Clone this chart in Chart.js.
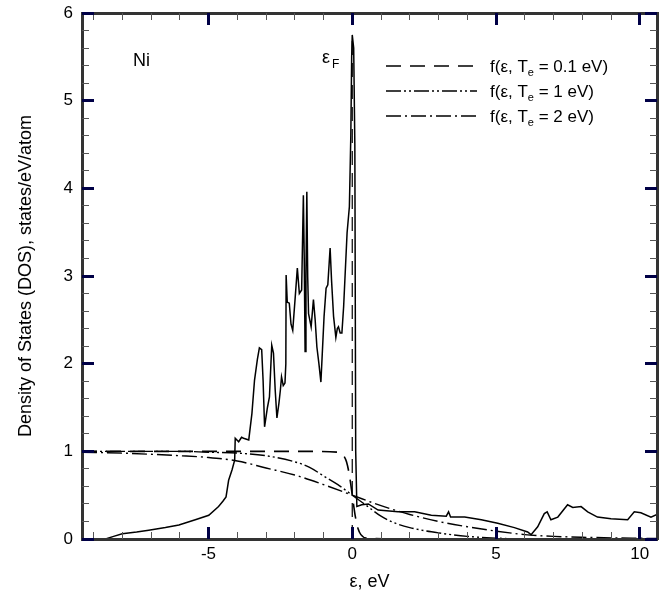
<!DOCTYPE html>
<html>
<head>
<meta charset="utf-8">
<script src="https://cdn.jsdelivr.net/npm/chart.js@4.4.1/dist/chart.umd.min.js"></script>
<style>
  html, body { margin: 0; padding: 0; background: #fff; }
  #wrap { width: 665px; height: 593px; }
</style>
</head>
<body>
<div id="wrap"><canvas id="dosChart"></canvas></div>
<script>
// Ni density of states, eV vs states/eV/atom
const dosEnergy = [
  -8.58, -8.3, -8.0, -7.5, -7.08, -6.5, -6.03, -5.46, -4.99, -4.65, -4.5, -4.39, -4.3, -4.18, -4.09, -4.07,
  -3.95, -3.85, -3.78, -3.6, -3.49, -3.4, -3.3, -3.23, -3.15, -3.1, -3.05, -2.95, -2.88, -2.8, -2.74, -2.68,
  -2.62, -2.55, -2.5, -2.46, -2.4, -2.34, -2.31, -2.3, -2.26, -2.19, -2.13, -2.07, -1.99, -1.91, -1.84, -1.76,
  -1.7, -1.67, -1.64, -1.61, -1.58, -1.55, -1.52, -1.43, -1.35, -1.29, -1.23, -1.16, -1.09, -1.03, -0.98, -0.91,
  -0.85, -0.77, -0.72, -0.65, -0.57, -0.52, -0.48, -0.42, -0.36, -0.3, -0.18, -0.1, -0.05, -0.02, 0.0, 0.05,
  0.09, 0.12, 0.16, 0.33, 0.56, 0.9, 1.59, 2.17, 2.75, 3.27, 3.35, 3.42, 3.91, 4.49, 5.06, 5.64,
  6.1, 6.22, 6.45, 6.68, 6.78, 6.91, 7.15, 7.49, 7.67, 7.96, 8.19, 8.53, 9.0, 9.58, 9.81, 10.04,
  10.39, 10.6
];
const dosValue = [
  0, 0.03, 0.06, 0.08, 0.10, 0.13, 0.16, 0.22, 0.27, 0.37, 0.43, 0.48, 0.67, 0.79, 0.90, 1.15,
  1.11, 1.16, 1.15, 1.13, 1.43, 1.81, 2.05, 2.18, 2.16, 1.80, 1.28, 1.50, 1.62, 2.21, 2.12, 1.70,
  1.38, 1.55, 1.70, 1.85, 1.75, 1.78, 2.00, 3.01, 2.70, 2.69, 2.45, 2.38, 2.73, 3.09, 2.80, 2.84,
  3.92, 3.20, 2.14, 3.00, 3.96, 3.00, 2.57, 2.42, 2.73, 2.50, 2.19, 2.00, 1.79, 2.20, 2.54, 2.86,
  2.90, 3.32, 2.95, 2.54, 2.30, 2.40, 2.42, 2.35, 2.35, 2.65, 3.49, 3.79, 4.60, 5.50, 5.75, 5.60,
  4.50, 1.00, 0.37, 0.39, 0.40, 0.33, 0.31, 0.31, 0.27, 0.26, 0.31, 0.25, 0.25, 0.22, 0.18, 0.13,
  0.08, 0.05, 0.14, 0.29, 0.31, 0.22, 0.25, 0.39, 0.36, 0.37, 0.31, 0.25, 0.23, 0.22, 0.31, 0.30,
  0.25, 0.28
];

// Fermi-Dirac occupations as drawn
const fermiEnergy01 = [-9.4, -2, -0.5, -0.3, -0.2, -0.1, 0.0, 0.05, 0.1, 0.2, 0.3, 0.5, 2, 10.6];
const fermiValue01  = [1.0, 1.0, 0.99, 0.95, 0.88, 0.73, 0.5, 0.38, 0.27, 0.12, 0.05, 0.01, 0, 0];

const fermiEnergy1 = [-9.4, -6, -5, -4, -3, -2, -1.5, -1, -0.5, 0, 0.5, 1, 1.5, 2, 3, 4, 5, 6, 10.6];
const fermiValue1  = [1.0, 1.0, 0.99, 0.98, 0.95, 0.88, 0.82, 0.72, 0.62, 0.5, 0.38, 0.26, 0.18, 0.13, 0.07, 0.03, 0.01, 0.0, 0.0];

const fermiEnergy2 = [-9.4, -8, -6, -5, -4, -3, -2, -1, 0, 1, 2, 3, 4, 5, 6, 7, 8, 10.6];
const fermiValue2  = [0.99, 0.98, 0.95, 0.93, 0.89, 0.81, 0.73, 0.62, 0.5, 0.38, 0.28, 0.2, 0.14, 0.09, 0.05, 0.03, 0.02, 0.005];

const fermiLevelEnergy = [0, 0];
const fermiLevelValue  = [0, 5.75];

const legendLabels = ["0.1 eV", "1 eV", "2 eV"];
const xTickValues = [-5, 0, 5, 10];
const yTickValues = [0, 1, 2, 3, 4, 5, 6];

const FONT = "'Liberation Sans', Arial, sans-serif";

function toPoints(xs, ys) {
  return xs.map((x, i) => ({ x: x, y: ys[i] }));
}

const dashT01 = [15, 9];
const dashT1  = [15, 3, 2, 3, 2, 3];
const dashT2  = [15, 4, 2, 4];

// frame + inward ticks
const framePlugin = {
  id: 'frame',
  afterDraw(chart) {
    const c = chart.ctx;
    const a = chart.chartArea;
    const xs = chart.scales.x, ys = chart.scales.y;
    c.save();
    c.fillStyle = '#333333';
    c.fillRect(a.left - 1, a.top - 1, a.right - a.left + 2, 3);
    c.fillRect(a.left - 1, a.bottom - 1, a.right - a.left + 2, 3);
    c.fillRect(a.left - 1, a.top - 1, 3, a.bottom - a.top + 2);
    c.fillRect(a.right - 1, a.top - 1, 3, a.bottom - a.top + 2);
    for (let v = -9; v <= 10; v++) {
      const major = xTickValues.indexOf(v) >= 0;
      const w = major ? 3 : 1, h = major ? 12 : 7;
      c.fillStyle = major ? 'rgb(0,0,70)' : '#555555';
      const px = Math.round(xs.getPixelForValue(v) - w / 2);
      c.fillRect(px, a.bottom - h, w, h);
      c.fillRect(px, a.top, w, h);
    }
    for (let k = 0; k <= 30; k++) {
      const major = k % 5 === 0;
      const w = major ? 12 : 7, h = major ? 3 : 1;
      c.fillStyle = major ? 'rgb(0,0,70)' : '#555555';
      const py = Math.round(ys.getPixelForValue(k * 0.2) - h / 2);
      c.fillRect(a.left, py, w, h);
      c.fillRect(a.right - w, py, w, h);
    }
    c.restore();
  }
};

const labelPlugin = {
  id: 'labels',
  afterDraw(chart) {
    const c = chart.ctx;
    const a = chart.chartArea;
    const L = a.left, T = a.top;
    c.save();
    c.fillStyle = '#000';
    c.strokeStyle = '#000';
    c.textBaseline = 'alphabetic';
    c.textAlign = 'left';
    c.font = '18px ' + FONT;
    c.fillText('Ni', L + 51, T + 53);
    c.fillText('\u03b5', L + 240, T + 50);
    c.font = '12px ' + FONT;
    c.fillText('F', L + 250, T + 55);

    const sets = chart.data.datasets.slice(1, 4);
    sets.forEach((ds, i) => {
      const rowY = T + 53 + i * 25;
      c.lineWidth = 1.6;
      c.setLineDash(ds.borderDash);
      c.beginPath();
      c.moveTo(L + 304, rowY);
      c.lineTo(L + 395, rowY);
      c.stroke();
      c.setLineDash([]);
      let tx = L + 408;
      const by = rowY + 6;
      c.font = '17px ' + FONT;
      c.fillText('f(\u03b5, T', tx, by);
      tx += c.measureText('f(\u03b5, T').width;
      c.font = '11px ' + FONT;
      c.fillText('e', tx, by + 4);
      tx += c.measureText('e').width;
      c.font = '17px ' + FONT;
      c.fillText(' = ' + legendLabels[i] + ')', tx, by);
    });
    c.restore();
  }
};

const noPad = (scale) => { scale.paddingTop = 0; scale.paddingBottom = 0; scale.paddingLeft = 0; scale.paddingRight = 0; };

new Chart(document.getElementById('dosChart'), {
  type: 'line',
  data: {
    datasets: [
      { label: 'DOS', data: toPoints(dosEnergy, dosValue), borderColor: '#000', borderWidth: 1.5, pointRadius: 0, tension: 0 },
      { label: 'f(T=0.1)', data: toPoints(fermiEnergy01, fermiValue01), borderColor: '#000', borderWidth: 1.6, borderDash: dashT01, pointRadius: 0, cubicInterpolationMode: 'monotone' },
      { label: 'f(T=1)', data: toPoints(fermiEnergy1, fermiValue1), borderColor: '#000', borderWidth: 1.4, borderDash: dashT1, pointRadius: 0, cubicInterpolationMode: 'monotone' },
      { label: 'f(T=2)', data: toPoints(fermiEnergy2, fermiValue2), borderColor: '#000', borderWidth: 1.4, borderDash: dashT2, pointRadius: 0, cubicInterpolationMode: 'monotone' },
      { label: 'eF', data: toPoints(fermiLevelEnergy, fermiLevelValue), borderColor: '#000', borderWidth: 1.2, borderDash: [14, 8], pointRadius: 0 }
    ]
  },
  options: {
    responsive: true,
    maintainAspectRatio: false,
    animation: false,
    layout: { padding: { top: 13, right: 8, left: 0, bottom: 0 } },
    plugins: { legend: { display: false }, tooltip: { enabled: false } },
    scales: {
      x: {
        type: 'linear',
        min: -9.4,
        max: 10.6,
        afterBuildTicks: (scale) => { scale.ticks = xTickValues.map(v => ({ value: v })); },
        afterFit: (scale) => { scale.height = 54; noPad(scale); },
        grid: { display: false, drawTicks: false },
        border: { display: false },
        ticks: { color: '#000', padding: 5, font: { family: FONT, size: 17 } },
        title: { display: true, text: '\u03b5, eV', color: '#000', padding: { top: 0, bottom: 0 }, font: { family: FONT, size: 18 } }
      },
      y: {
        min: 0,
        max: 6,
        afterBuildTicks: (scale) => { scale.ticks = yTickValues.map(v => ({ value: v })); },
        afterFit: (scale) => { scale.width = 82; noPad(scale); },
        grid: { display: false, drawTicks: false },
        border: { display: false },
        ticks: { color: '#000', padding: 9, font: { family: FONT, size: 17 } },
        title: { display: true, text: 'Density of States (DOS), states/eV/atom', color: '#000', padding: { top: 15, bottom: 0 }, font: { family: FONT, size: 18 } }
      }
    }
  },
  plugins: [framePlugin, labelPlugin]
});
</script>
</body>
</html>
